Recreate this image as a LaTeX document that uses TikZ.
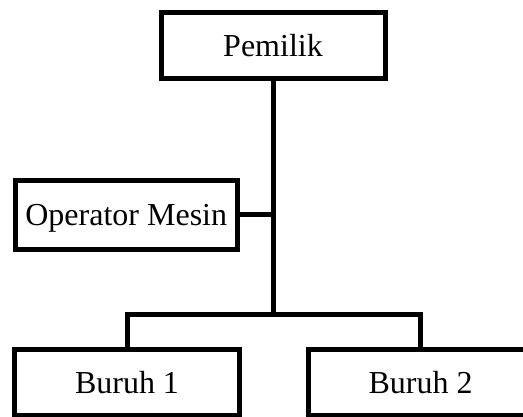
\documentclass[tikz,border=0pt]{standalone}
\usepackage{fontspec}
\setmainfont{Liberation Serif}
\tikzset{
  orgbox/.style={draw, line width=5pt, fill=white, inner sep=0pt,
    font=\fontsize{32}{38}\selectfont, text height=21pt, text depth=0pt,
    minimum width=224pt, minimum height=66pt},
  link/.style={line width=5pt}
}
\begin{document}
\begin{tikzpicture}[x=1pt, y=-1pt]
  \useasboundingbox (0,0) rectangle (523,417);
  \clip (0,0) rectangle (523,417);
  % boxes
  \node[orgbox] (pem) at (273,46) {Pemilik};
  \node[orgbox, minimum width=222.5pt, minimum height=69pt] (op) at (126.25,215) {Operator Mesin};
  \node[orgbox, minimum width=225pt] (b1) at (127,382.5) {Buruh 1};
  \node[orgbox, minimum width=225pt] (b2) at (420.5,382.5) {Buruh 2};
  % junction of the lower branch
  \coordinate (j) at (273,315);
  % connectors
  \draw[link] (pem.south) -- (j);
  \draw[link] (op.east) -- (op.east -| j);
  \draw[link] (b1.north) |- (j) -| (b2.north);
\end{tikzpicture}
\end{document}
